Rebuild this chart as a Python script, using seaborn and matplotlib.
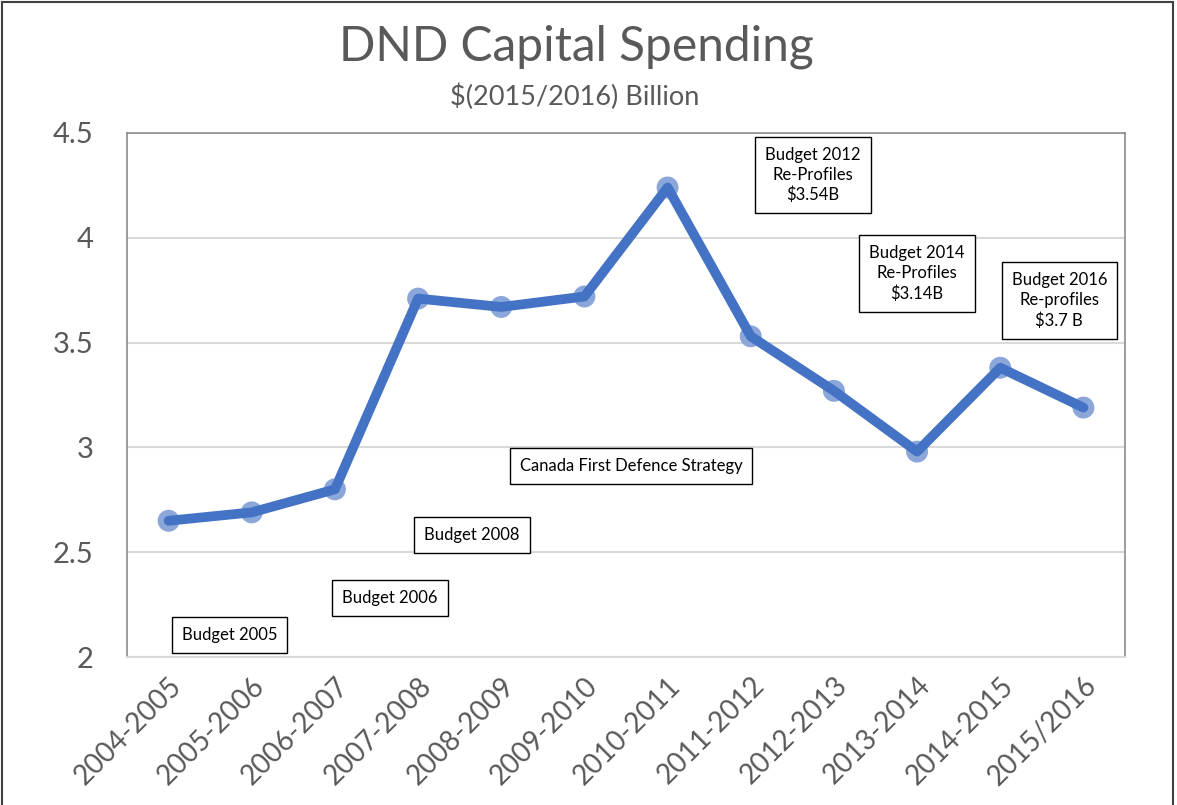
import matplotlib.pyplot as plt
import matplotlib as mpl
import seaborn as sns
import pandas as pd
from matplotlib.patches import Rectangle
mpl.use('Agg')

# fiscal years and capital spending ($2015/16 billion)
years = ["2004-2005", "2005-2006", "2006-2007", "2007-2008", "2008-2009", "2009-2010",
         "2010-2011", "2011-2012", "2012-2013", "2013-2014", "2014-2015", "2015/2016"]
spending = [2.65, 2.69, 2.80, 3.71, 3.67, 3.72, 4.24, 3.53, 3.27, 2.98, 3.38, 3.19]

# call-out boxes and where they sit (category index, value)
notes = ["Budget 2005", "Budget 2006", "Budget 2008", "Canada First Defence Strategy",
         "Budget 2012\nRe-Profiles\n\\$3.54B", "Budget 2014\nRe-Profiles\n\\$3.14B",
         "Budget 2016\nRe-profiles\n\\$3.7 B"]
note_x = [0.73, 2.66, 3.65, 5.56, 7.75, 9.0, 10.71]
note_y = [2.105, 2.28, 2.58, 2.91, 4.30, 3.83, 3.70]

sns.set_style("white")
plt.rcParams['font.family'] = ['Lato', 'DejaVu Sans']

df = pd.DataFrame({"year": years, "spending": spending})

fig = plt.figure(figsize=(11.77, 8.05), dpi=100)
ax = fig.add_axes([127 / 1177, 148 / 805, 998 / 1177, 524 / 805])

#markers first, then the thick line on top
sns.scatterplot(data=df, x="year", y="spending", ax=ax, s=250, color="#8BA7DA",
                edgecolor="none", zorder=3)
sns.lineplot(data=df, x="year", y="spending", ax=ax, sort=False, color="#4472C4",
             linewidth=7, zorder=4)

ax.set_xlim(-0.5, len(years) - 0.5)
ax.set_ylim(2, 4.5)
ax.set_yticks([2, 2.5, 3, 3.5, 4, 4.5])
ax.set_yticklabels(["2", "2.5", "3", "3.5", "4", "4.5"])
ax.yaxis.grid(True, color="#D9D9D9", linewidth=1.5)
ax.set_axisbelow(True)
ax.set_xlabel("")
ax.set_ylabel("")

ax.tick_params(axis="y", length=0, pad=24, labelsize=21, labelcolor="#595959")
ax.tick_params(axis="x", length=7, width=1.5, color="#D9D9D9", direction="out",
               labelsize=20, labelcolor="#595959", pad=4)
for lbl in ax.get_xticklabels():
    lbl.set_rotation(45)
    lbl.set_ha("right")
    lbl.set_rotation_mode("anchor")

for side in ["left", "top", "right"]:
    ax.spines[side].set_color("#8C8C8C")
    ax.spines[side].set_linewidth(1.2)
ax.spines["bottom"].set_color("#D9D9D9")
ax.spines["bottom"].set_linewidth(1.5)

for txt, x, y in zip(notes, note_x, note_y):
    ax.text(x, y, txt, ha="center", va="center", fontsize=12, color="black",
            linespacing=1.3, zorder=5,
            bbox=dict(boxstyle="square,pad=0.6", facecolor="white", edgecolor="black",
                      linewidth=1))

fig.text(0.490, 0.942, "DND Capital Spending", ha="center", va="center",
         fontsize=34.5, color="#595959")
fig.text(0.488, 0.880, "\\$(2015/2016) Billion", ha="center", va="center",
         fontsize=19.5, color="#595959")

# outer chart frame
fig.patches.append(Rectangle((2 / 1177, -0.05), 1171 / 1177, 1.05 - 2 / 805,
                             transform=fig.transFigure, fill=False,
                             edgecolor="#404040", linewidth=1.5))

fig.savefig("out.png", dpi=100)
